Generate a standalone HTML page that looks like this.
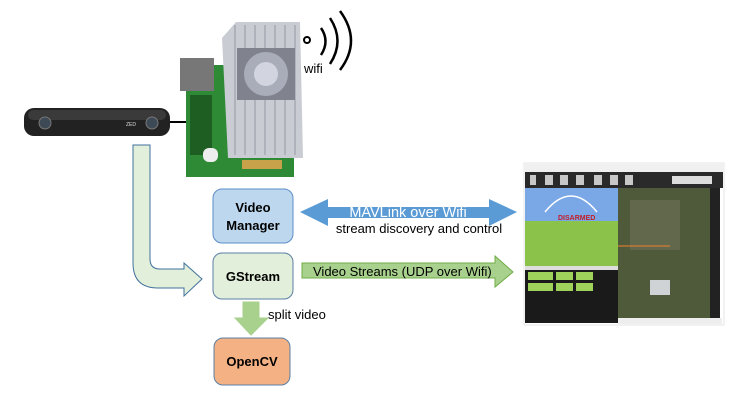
<!DOCTYPE html>
<html><head><meta charset="utf-8"><style>
html,body{margin:0;padding:0;background:#fff;}
svg{display:block;font-family:"Liberation Sans",Calibri,sans-serif;}
</style></head><body>
<svg width="738" height="408" viewBox="0 0 738 408" xmlns="http://www.w3.org/2000/svg">
<!-- camera -->
<rect x="24" y="108" width="146" height="28" rx="10" fill="#222"/>
<rect x="28" y="110" width="138" height="10" rx="5" fill="#3a3a3a"/>
<circle cx="45" cy="123" r="6" fill="#3d4a55" stroke="#777" stroke-width="1"/>
<circle cx="152" cy="123" r="6" fill="#3d4a55" stroke="#777" stroke-width="1"/>
<text x="126" y="126" font-size="5" fill="#ddd">ZED</text>
<line x1="170" y1="122" x2="186" y2="122" stroke="#000" stroke-width="2"/>
<!-- board -->
<rect x="186" y="65" width="108" height="112" fill="#2f8a35"/>
<rect x="180" y="58" width="34" height="33" fill="#777"/>
<rect x="190" y="95" width="22" height="60" fill="#1e5e22"/>
<rect x="203" y="148" width="15" height="14" rx="6" fill="#eee"/>
<rect x="242" y="160" width="40" height="9" fill="#c8a24a"/>
<!-- heatsink -->
<path d="M222,38 L236,22 L300,22 L303,158 L228,158 Z" fill="#c9ccd3"/>
<g stroke="#9ea2ab" stroke-width="1.2">
<line x1="235" y1="25" x2="235" y2="155"/><line x1="245" y1="25" x2="245" y2="155"/>
<line x1="255" y1="25" x2="255" y2="155"/><line x1="265" y1="25" x2="265" y2="155"/>
<line x1="275" y1="25" x2="275" y2="155"/><line x1="285" y1="25" x2="285" y2="155"/>
<line x1="295" y1="25" x2="295" y2="155"/>
</g>
<rect x="237" y="48" width="58" height="52" fill="#80838e"/>
<circle cx="266" cy="74" r="22" fill="#a9adba"/>
<circle cx="266" cy="74" r="12" fill="#d2d4e0"/>
<!-- wifi -->
<circle cx="307" cy="40" r="3" fill="none" stroke="#000" stroke-width="2"/>
<g fill="none" stroke="#000" stroke-width="2.5">
<path d="M321,28 Q330,41 321,55"/>
<path d="M330,18 Q345,41 330,64"/>
<path d="M340,11 Q362,41 340,70"/>
</g>
<text x="304" y="73" font-size="13" fill="#000">wifi</text>
<!-- curved arrow -->
<path d="M133,145 L150,145 L150,259 Q150,269 160,269 L184,269 L184,263 L202,279 L184,296 L184,288 L158,288 Q133,288 133,263 Z" fill="#e2efda" stroke="#41719c" stroke-width="1"/>
<!-- boxes -->
<rect x="213" y="189" width="80" height="54" rx="9" fill="#bdd7ee" stroke="#5b8fc7" stroke-width="1"/>
<text x="253" y="212" font-size="13" font-weight="bold" text-anchor="middle">Video</text>
<text x="253" y="230" font-size="13" font-weight="bold" text-anchor="middle">Manager</text>
<rect x="213" y="253" width="80" height="46" rx="9" fill="#e2efda" stroke="#5b7fa6" stroke-width="1"/>
<text x="253" y="281" font-size="13" font-weight="bold" text-anchor="middle">GStream</text>
<rect x="214" y="338" width="76" height="47" rx="9" fill="#f4b183" stroke="#5b7fa6" stroke-width="1"/>
<text x="252" y="366" font-size="13" font-weight="bold" text-anchor="middle">OpenCV</text>
<!-- MAVLink arrow -->
<path d="M300,212 L328,199 L328,207 L489,207 L489,199 L517,212 L489,226 L489,218 L328,218 L328,226 Z" fill="#5b9bd5"/>
<text x="408" y="217" font-size="14.5" fill="#fff" text-anchor="middle">MAVLink over Wifi</text>
<text x="419" y="233" font-size="13" fill="#000" text-anchor="middle">stream discovery and control</text>
<!-- video streams arrow -->
<path d="M302,263 L495,263 L495,256 L513,272 L495,287 L495,278 L302,278 Z" fill="#a9d18e" stroke="#70ad47" stroke-width="1"/>
<text x="313" y="276" font-size="13" fill="#000">Video Streams (UDP over Wifi)</text>
<!-- down arrow -->
<path d="M243,302 L259,302 L259,318 L268,318 L251,335 L235,318 L243,318 Z" fill="#a9d18e" stroke="#a9d18e" stroke-width="1"/>
<text x="268" y="319" font-size="13" fill="#000">split video</text>
<!-- mission planner screenshot -->
<rect x="524" y="163" width="200" height="162" fill="#fff" stroke="#ccc" stroke-width="0.5"/>
<rect x="525" y="164" width="198" height="8" fill="#f0f0f0"/>
<rect x="525" y="172" width="198" height="16" fill="#2a2a2a"/>
<g fill="#c8c8c8"><rect x="530" y="175" width="6" height="10"/><rect x="545" y="175" width="8" height="10"/><rect x="560" y="175" width="8" height="10"/><rect x="576" y="175" width="8" height="10"/><rect x="594" y="175" width="8" height="10"/><rect x="610" y="175" width="8" height="10"/><rect x="625" y="175" width="8" height="10"/></g>
<rect x="672" y="176" width="40" height="8" fill="#ddd"/>
<rect x="525" y="188" width="93" height="33" fill="#7aa7e6"/>
<rect x="525" y="221" width="93" height="45" fill="#8bc34a"/>
<text x="558" y="220" font-size="7" font-weight="bold" fill="#c0202a">DISARMED</text>
<path d="M545,212 Q571,180 597,212" fill="none" stroke="#fff" stroke-width="1.5"/>
<rect x="525" y="266" width="93" height="4" fill="#ddd"/>
<rect x="525" y="270" width="93" height="53" fill="#1a1a1a"/>
<g fill="#9fd25a"><rect x="528" y="272" width="25" height="8"/><rect x="556" y="272" width="17" height="8"/><rect x="576" y="272" width="17" height="8"/><rect x="528" y="283" width="25" height="8"/><rect x="556" y="283" width="17" height="8"/><rect x="576" y="283" width="17" height="8"/></g>
<rect x="618" y="188" width="100" height="130" fill="#4f5a3a"/>
<rect x="630" y="200" width="50" height="50" fill="#6b6d52" opacity="0.7"/>
<rect x="650" y="280" width="20" height="15" fill="#cfd3d6"/>
<line x1="618" y1="246" x2="670" y2="246" stroke="#f08030" stroke-width="1"/>
<rect x="710" y="188" width="10" height="130" fill="#222"/>
<rect x="618" y="318" width="104" height="6" fill="#eee"/>
</svg>
</body></html>
